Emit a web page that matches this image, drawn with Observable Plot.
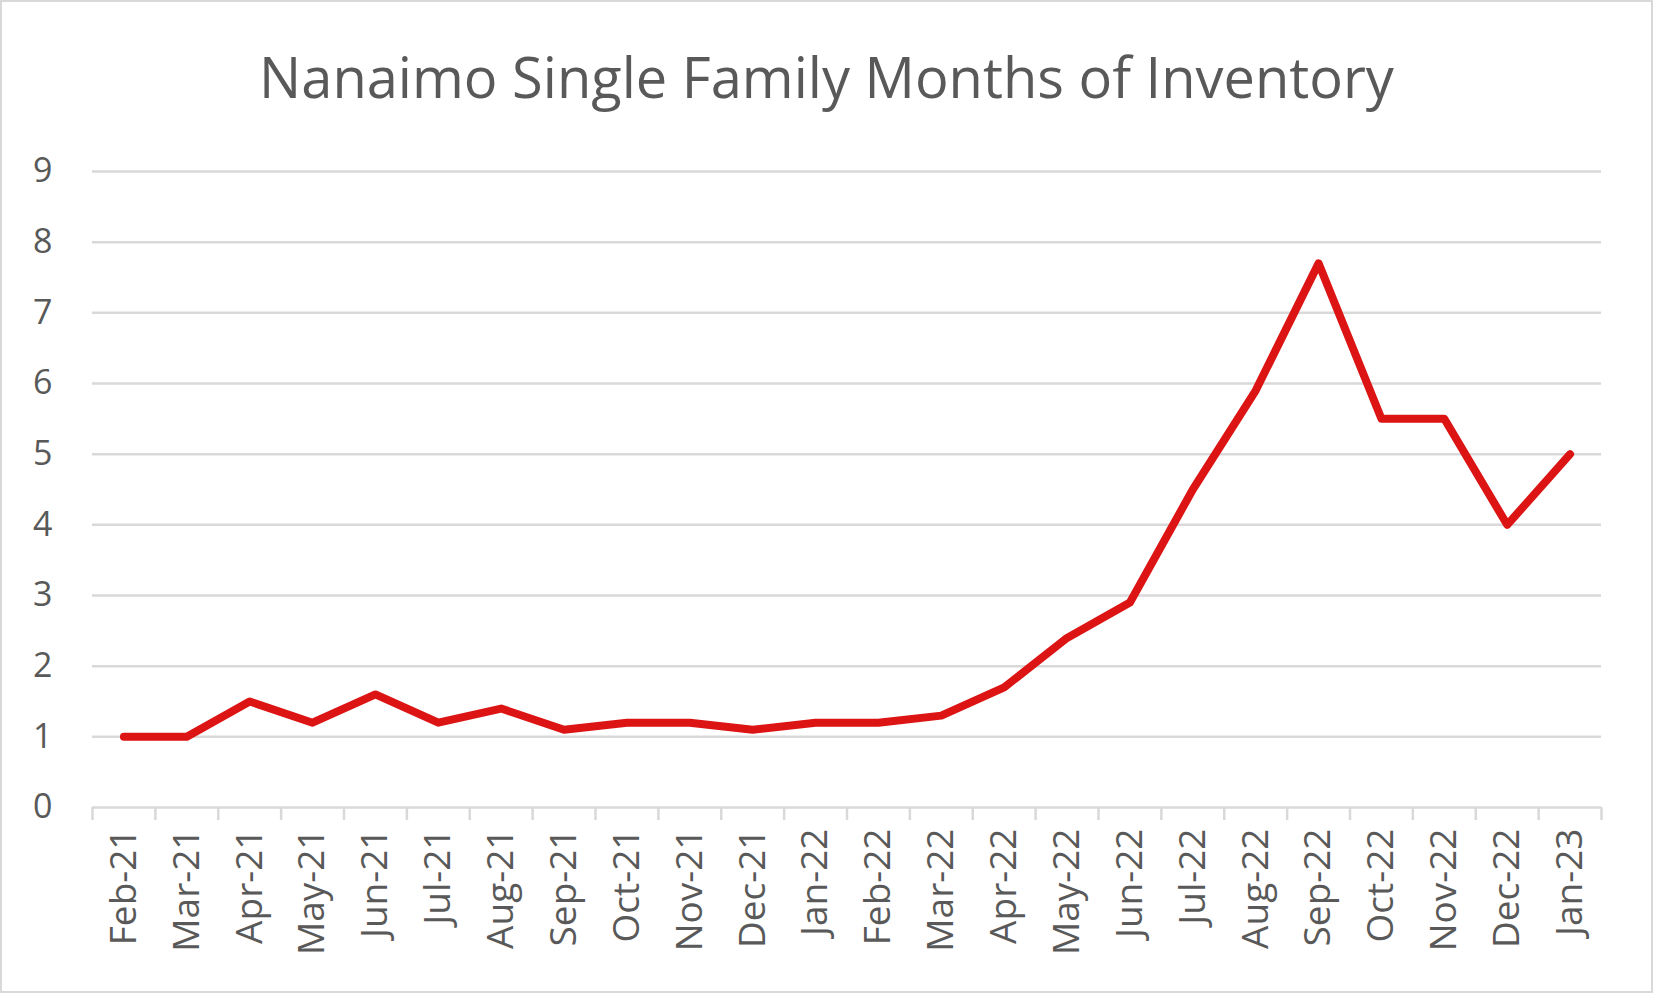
<!DOCTYPE html>
<html>
<head>
<meta charset="utf-8">
<script src="https://cdn.jsdelivr.net/npm/d3@7"></script>
<script src="https://cdn.jsdelivr.net/npm/@observablehq/plot@0.6"></script>
<style>
  html, body { margin: 0; padding: 0; background: #fff; }
  #chart {
    width: 1653px; height: 993px; box-sizing: border-box;
    border: 2px solid #d9d9d9; background: #fff; overflow: hidden;
    font-family: "Open Sans", sans-serif;
  }
  #title {
    height: 138px; margin: 0; padding-top: 46px; box-sizing: border-box;
    text-align: center; font-weight: 400; font-size: 56px; color: #595959;
    line-height: 1;
  }
</style>
</head>
<body>
<div id="chart">
  <div id="title">Nanaimo Single Family Months of Inventory</div>
</div>
<script>
const months = ["Feb-21","Mar-21","Apr-21","May-21","Jun-21","Jul-21","Aug-21","Sep-21","Oct-21","Nov-21","Dec-21","Jan-22",
                "Feb-22","Mar-22","Apr-22","May-22","Jun-22","Jul-22","Aug-22","Sep-22","Oct-22","Nov-22","Dec-22","Jan-23"];
const inventory = [1.0, 1.0, 1.5, 1.2, 1.6, 1.2, 1.4, 1.1, 1.2, 1.2, 1.1, 1.2,
                   1.2, 1.3, 1.7, 2.4, 2.9, 4.5, 5.9, 7.7, 5.5, 5.5, 4.0, 5.0];
const yTicks = [0,1,2,3,4,5,6,7,8,9];

const data = months.map((m, i) => ({month: m, idx: i + 0.5, value: inventory[i]}));
const gray = "#d9d9d9";
const textColor = "#595959";

const plot = Plot.plot({
  width: 1649,
  height: 851,
  marginLeft: 90,
  marginRight: 50,
  marginTop: 31,
  marginBottom: 184,
  style: {fontFamily: "Open Sans, sans-serif", color: textColor, background: "#fff"},
  x: {type: "linear", domain: [0, months.length], axis: null},
  y: {domain: [0, 9], axis: null},
  marks: [
    Plot.ruleY(yTicks.filter(d => d > 0), {stroke: gray, strokeWidth: 2.5}),
    Plot.ruleY([0], {stroke: gray, strokeWidth: 2.5}),
    Plot.axisX({ticks: d3.range(0, months.length + 1), tickSize: 13, tickFormat: () => "", label: null, stroke: gray, strokeWidth: 2.5, strokeOpacity: 1, anchor: "bottom"}),
    Plot.text(yTicks, {x: 0, y: d => d, text: d => String(d), textAnchor: "end", dx: -40, fontSize: 34, fill: textColor}),
    Plot.text(data, {x: "idx", y: 0, text: "month", rotate: -90, textAnchor: "end", lineAnchor: "middle", dy: 21, fontSize: 37, fill: textColor}),
    Plot.line(data, {x: "idx", y: "value", stroke: "#dc1414", strokeWidth: 8, strokeLinecap: "round", strokeLinejoin: "round"})
  ]
});
document.getElementById("chart").appendChild(plot);
</script>
</body>
</html>
